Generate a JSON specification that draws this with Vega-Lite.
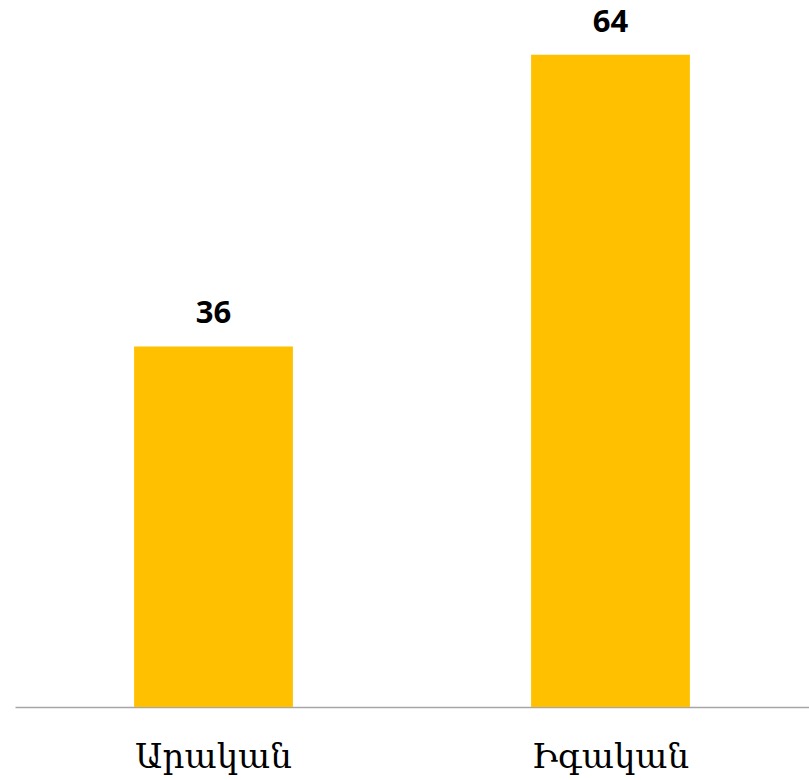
{
  "$schema": "https://vega.github.io/schema/vega-lite/v6.json",
  "autosize": "none",
  "width": 794,
  "height": 707,
  "padding": {"left": 15, "top": 0, "right": 0, "bottom": 73},
  "background": "white",
  "config": {"view": {"stroke": null}},
  "data": {"values": [
    {"sex": "Արական", "value": 35.6},
    {"sex": "Իգական", "value": 64.4}
  ]},
  "encoding": {
    "x": {"field": "sex", "type": "nominal", "sort": null,
      "scale": {"paddingInner": 0.6, "paddingOuter": 0.3},
      "axis": {"title": null, "labelAngle": 0, "ticks": false, "domainColor": "#A6A6A6", "domainWidth": 1.5,
        "labelFont": "DejaVu Serif", "labelFontSize": 34, "labelColor": "#000000", "labelBaseline": "alphabetic", "labelPadding": 60}},
    "y": {"field": "value", "type": "quantitative", "scale": {"domain": [0, 69.8], "nice": false}, "axis": null}
  },
  "layer": [
    {"mark": {"type": "bar", "color": "#FFC000"}},
    {"mark": {"type": "text", "baseline": "alphabetic", "dy": -23, "font": "Open Sans", "fontWeight": "bold", "fontSize": 31, "color": "#000000"},
      "encoding": {"text": {"field": "value", "type": "quantitative", "format": ".0f"}}}
  ]
}
